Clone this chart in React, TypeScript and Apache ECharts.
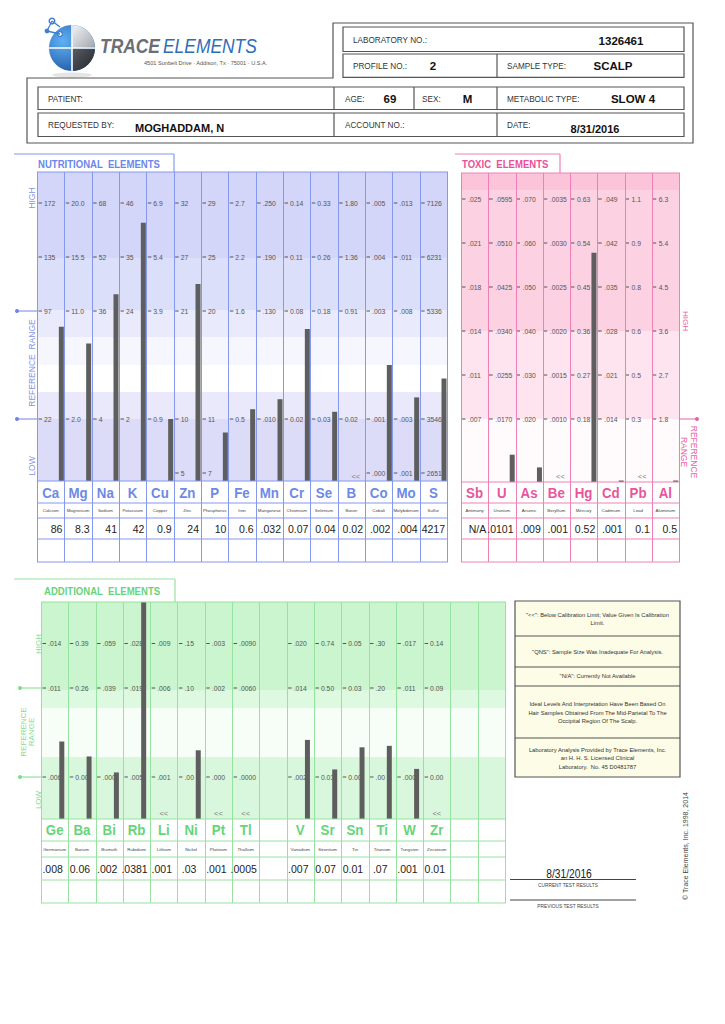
import React, { useEffect, useRef } from "react";
import * as echarts from "echarts";

const FONT = '"Liberation Sans", Arial, Helvetica, sans-serif';

// ================= DATA =================
// Nutritional elements
const nutSymbols = ["Ca", "Mg", "Na", "K", "Cu", "Zn", "P", "Fe", "Mn", "Cr", "Se", "B", "Co", "Mo", "S"];
const nutNames = ["Calcium", "Magnesium", "Sodium", "Potassium", "Copper", "Zinc", "Phosphorus", "Iron", "Manganese", "Chromium", "Selenium", "Boron", "Cobalt", "Molybdenum", "Sulfur"];
const nutResults = ["86", "8.3", "41", "42", "0.9", "24", "10", "0.6", ".032", "0.07", "0.04", "0.02", ".002", ".004", "4217"];
const nutBelowLimit = [false, false, false, false, false, false, false, false, false, false, false, true, false, false, false];
const nutTickLow = ["", "", "", "", "", "5", "7", "", "", "", "", "", ".000", ".001", "2651"];
const nutTickRefLow = ["22", "2.0", "4", "2", "0.9", "10", "11", "0.5", ".010", "0.02", "0.03", "0.02", ".001", ".003", "3546"];
const nutTickRefHigh = ["97", "11.0", "36", "24", "3.9", "21", "20", "1.6", ".130", "0.08", "0.18", "0.91", ".003", ".008", "5336"];
const nutTickMid = ["135", "15.5", "52", "35", "5.4", "27", "25", "2.2", ".190", "0.11", "0.26", "1.36", ".004", ".011", "6231"];
const nutTickHigh = ["172", "20.0", "68", "46", "6.9", "32", "29", "2.7", ".250", "0.14", "0.33", "1.80", ".005", ".013", "7126"];

// Toxic elements
const toxSymbols = ["Sb", "U", "As", "Be", "Hg", "Cd", "Pb", "Al"];
const toxNames = ["Antimony", "Uranium", "Arsenic", "Beryllium", "Mercury", "Cadmium", "Lead", "Aluminum"];
const toxResults = ["N/A", ".0101", ".009", ".001", "0.52", ".001", "0.1", "0.5"];
const toxBelowLimit = [false, false, false, true, false, false, true, false];
const toxTick1 = [".007", ".0170", ".020", ".0010", "0.18", ".014", "0.3", "1.8"];
const toxTick2 = [".011", ".0255", ".030", ".0015", "0.27", ".021", "0.5", "2.7"];
const toxTick3 = [".014", ".0340", ".040", ".0020", "0.36", ".028", "0.6", "3.6"];
const toxTick4 = [".018", ".0425", ".050", ".0025", "0.45", ".035", "0.8", "4.5"];
const toxTick5 = [".021", ".0510", ".060", ".0030", "0.54", ".042", "0.9", "5.4"];
const toxTick6 = [".025", ".0595", ".070", ".0035", "0.63", ".049", "1.1", "6.3"];

// Additional elements
const addSymbols = ["Ge", "Ba", "Bi", "Rb", "Li", "Ni", "Pt", "Tl", "", "V", "Sr", "Sn", "Ti", "W", "Zr", "", ""];
const addNames = ["Germanium", "Barium", "Bismuth", "Rubidium", "Lithium", "Nickel", "Platinum", "Thallium", "", "Vanadium", "Strontium", "Tin", "Titanium", "Tungsten", "Zirconium", "", ""];
const addResults = [".008", "0.06", ".002", ".0381", ".001", ".03", ".001", ".0005", "", ".007", "0.07", "0.01", ".07", ".001", "0.01", "", ""];
const addBelowLimit = [false, false, false, false, true, false, true, true, false, false, false, false, false, false, true, false, false];
const addTickLow = [".006", "0.00", ".000", ".005", ".001", ".00", ".000", ".0000", "", ".002", "0.03", "0.00", ".00", ".000", "0.00", "", ""];
const addTickRefHigh = [".011", "0.26", ".039", ".019", ".006", ".10", ".002", ".0060", "", ".014", "0.50", "0.03", ".20", ".011", "0.09", "", ""];
const addTickHigh = [".014", "0.39", ".059", ".028", ".009", ".15", ".003", ".0090", "", ".020", "0.74", "0.05", ".30", ".017", "0.14", "", ""];

// Legend / notes
const legendLines = [
  ['"<<": Below Calibration Limit; Value Given Is Calibration', "Limit."],
  ['"QNS": Sample Size Was Inadequate For Analysis.'],
  ['"N/A": Currently Not Available'],
  ["Ideal Levels And Interpretation Have Been Based On", "Hair Samples Obtained From The Mid-Parietal To The", "Occipital Region Of The Scalp."],
  ["Laboratory Analysis Provided by Trace Elements, Inc.", "an H. H. S. Licensed Clinical", "Laboratory.  No. 45 D0481787"],
];

// ================= LAYOUT =================
type Layout = {
  left: number; top: number; width: number; bottom: number;
  zeroPx: number; unit: number; plotBottomPx: number; rowLinesPx: number[];
  symPx: number; namePx: number; valPx: number; lessPx: number; tickPos: number[];
  dash: [number, number]; tickTextX: number; barInset: number; valueAlign: "right" | "center";
  lessDx: number; lineColor: string; symColor: string; bands: [number, number, string][];
};

const NUT: Layout = {
  left: 37, top: 172, width: 410, bottom: 562, zeroPx: 527, unit: 54, plotBottomPx: 481,
  rowLinesPx: [503, 518, 539], symPx: 492.5, namePx: 510.5, valPx: 529, lessPx: 476,
  tickPos: [1, 2, 4, 5, 6], dash: [1.5, 5], tickTextX: 7, barInset: 0.5, valueAlign: "right", lessDx: 4.5,
  lineColor: "#8598ef", symColor: "#6d89e8",
  bands: [[172, 258, "#d3d6f8"], [258, 310, "#dcdff9"], [310, 337, "#e9ebfc"], [337, 365, "#f6f6fe"], [365, 392, "#ffffff"], [392, 419, "#e9e9fb"], [419, 481, "#dcdcf8"]],
};
const TOX: Layout = {
  left: 461, top: 173, width: 218, bottom: 562, zeroPx: 507, unit: 44, plotBottomPx: 482,
  rowLinesPx: [503, 518, 539], symPx: 493, namePx: 510.5, valPx: 529, lessPx: 476,
  tickPos: [2, 3, 4, 5, 6, 7], dash: [0.5, 4.5], tickTextX: 7, barInset: 0.8, valueAlign: "right", lessDx: 4,
  lineColor: "#ee80b6", symColor: "#e8559c",
  bands: [[173, 190, "#fbc4d9"], [190, 331, "#fcd2e3"], [331, 419, "#fde4ee"], [419, 482, "#fffbfd"]],
};
const ADD: Layout = {
  left: 41, top: 602, width: 464, bottom: 903, zeroPx: 866, unit: 44.5, plotBottomPx: 819,
  rowLinesPx: [841, 857, 880], symPx: 830, namePx: 849, valPx: 869, lessPx: 813,
  tickPos: [2, 4, 5], dash: [1.5, 5], tickTextX: 7, barInset: 4, valueAlign: "center", lessDx: 0,
  lineColor: "#96e2a0", symColor: "#66d479",
  bands: [[602, 690, "#cbf5ce"], [690, 708, "#ddf9df"], [708, 757, "#f7fdf7"], [757, 819, "#d9f7dc"]],
};

type Panel = { layout: Layout; symbols: string[]; names: string[]; results: string[]; below: boolean[]; rows: string[][] };

const PANELS: Panel[] = [
  { layout: NUT, symbols: nutSymbols, names: nutNames, results: nutResults, below: nutBelowLimit, rows: [nutTickLow, nutTickRefLow, nutTickRefHigh, nutTickMid, nutTickHigh] },
  { layout: TOX, symbols: toxSymbols, names: toxNames, results: toxResults, below: toxBelowLimit, rows: [toxTick1, toxTick2, toxTick3, toxTick4, toxTick5, toxTick6] },
  { layout: ADD, symbols: addSymbols, names: addNames, results: addResults, below: addBelowLimit, rows: [addTickLow, addTickRefHigh, addTickHigh] },
];

// value -> position on the panel's band scale (piecewise linear through that column's tick values)
function valueToPos(v: number, rows: string[][], tickPos: number[], j: number): number {
  const pts: [number, number][] = [];
  rows.forEach((row, r) => {
    const t = parseFloat(row[j]);
    if (isFinite(t)) pts.push([t, tickPos[r]]);
  });
  if (pts[0][0] > 0) pts.unshift([0, 0]);
  for (let k = 0; k < pts.length - 1; k++) {
    const [v0, p0] = pts[k];
    const [v1, p1] = pts[k + 1];
    if (v <= v1 || k === pts.length - 2) return p0 + ((v - v0) / (v1 - v0)) * (p1 - p0);
  }
  return pts[0][1];
}

function panelSeries(p: Panel, gi: number): any[] {
  const L = p.layout;
  const n = p.symbols.length;
  const yv = (px: number) => (L.zeroPx - px) / L.unit;
  const common = { type: "custom", coordinateSystem: "cartesian2d", xAxisIndex: gi, yAxisIndex: gi, silent: true };

  const bg = {
    ...common, z: 1,
    data: L.bands.map((b) => [0, yv(b[0]), yv(b[1])]),
    renderItem: (params: any, api: any) => {
      const cs = params.coordSys;
      const a = api.coord([0, api.value(1)])[1];
      const b = api.coord([0, api.value(2)])[1];
      return { type: "rect", shape: { x: cs.x, y: Math.min(a, b), width: cs.width, height: Math.abs(b - a) }, style: { fill: L.bands[params.dataIndex][2] } };
    },
  };

  const ticks: { j: number; pos: number; lab: string }[] = [];
  p.rows.forEach((row, r) => row.forEach((lab, j) => { if (lab) ticks.push({ j, pos: L.tickPos[r], lab }); }));
  const tk = {
    ...common, z: 2,
    data: ticks.map((t) => [t.j, t.pos]),
    renderItem: (params: any, api: any) => {
      const c = api.coord([api.value(0), api.value(1)]);
      const w = params.coordSys.width / n;
      const l = c[0] - w / 2;
      return {
        type: "group",
        children: [
          { type: "line", shape: { x1: l + L.dash[0], y1: c[1], x2: l + L.dash[1], y2: c[1] }, style: { stroke: "#555", lineWidth: 1 } },
          { type: "text", x: l + L.tickTextX, y: c[1], style: { text: ticks[params.dataIndex].lab, fill: "#555", fontSize: 6.8, fontFamily: FONT, align: "left", verticalAlign: "middle" } },
        ],
      };
    },
  };

  const bars: number[][] = [];
  p.results.forEach((r, j) => {
    const v = parseFloat(r);
    if (!isFinite(v) || p.below[j]) return;
    bars.push([j, valueToPos(v, p.rows, L.tickPos, j)]);
  });
  const br = {
    ...common, z: 3,
    data: bars,
    renderItem: (params: any, api: any) => {
      const c = api.coord([api.value(0), api.value(1)]);
      const w = params.coordSys.width / n;
      const right = c[0] + w / 2 - L.barInset;
      const bottom = api.coord([0, yv(L.plotBottomPx)])[1];
      let y = Math.max(c[1], params.coordSys.y);
      y = Math.min(y, bottom - 1.5);
      return { type: "rect", shape: { x: right - 5, y, width: 5, height: bottom - y }, style: { fill: "#5e5e5e" } };
    },
  };

  const frame = {
    ...common, z: 4,
    data: [[0, 0]],
    renderItem: (params: any, api: any) => {
      const cs = params.coordSys;
      const w = cs.width / n;
      const children: any[] = [];
      for (let k = 0; k <= n; k++) {
        const x = Math.round(cs.x + k * w) + 0.5;
        children.push({ type: "line", shape: { x1: x, y1: cs.y, x2: x, y2: cs.y + cs.height }, style: { stroke: L.lineColor, lineWidth: 1 } });
      }
      [L.top, L.plotBottomPx, ...L.rowLinesPx, L.bottom].forEach((px) => {
        const y = api.coord([0, yv(px)])[1];
        children.push({ type: "line", shape: { x1: cs.x, y1: y, x2: cs.x + cs.width + 1, y2: y }, style: { stroke: L.lineColor, lineWidth: 1 } });
      });
      return { type: "group", children };
    },
  };

  const cells: { j: number; pos: number; text: string; kind: string }[] = [];
  p.symbols.forEach((s, j) => {
    if (s) cells.push({ j, pos: yv(L.symPx), text: s, kind: "sym" });
    if (p.names[j]) cells.push({ j, pos: yv(L.namePx), text: p.names[j], kind: "name" });
    if (p.results[j]) cells.push({ j, pos: yv(L.valPx), text: p.results[j], kind: "val" });
    if (p.below[j]) cells.push({ j, pos: yv(L.lessPx), text: "<<", kind: "less" });
  });
  const tx = {
    ...common, z: 5,
    data: cells.map((c) => [c.j, c.pos]),
    renderItem: (params: any, api: any) => {
      const cell = cells[params.dataIndex];
      const c = api.coord([api.value(0), api.value(1)]);
      const w = params.coordSys.width / n;
      const base = { fontFamily: FONT, verticalAlign: "middle", text: cell.text };
      if (cell.kind === "sym") {
        return { type: "text", x: c[0], y: c[1], scaleX: 0.86, style: { ...base, fontSize: 15.5, fontWeight: "bold", fill: L.symColor, align: "center" } };
      }
      if (cell.kind === "name") {
        return { type: "text", x: c[0], y: c[1], style: { ...base, fontSize: 4.4, fill: "#444", align: "center" } };
      }
      if (cell.kind === "val") {
        const x = L.valueAlign === "right" ? c[0] + w / 2 - 2 : c[0] - 2;
        return { type: "text", x, y: c[1], style: { ...base, fontSize: 10.5, fill: "#222", align: L.valueAlign } };
      }
      return { type: "text", x: c[0] + L.lessDx, y: c[1], style: { ...base, fontSize: 7.5, fill: "#7a7a7a", align: "center" } };
    },
  };

  return [bg, tk, br, frame, tx];
}

// ================= GRAPHIC HELPERS =================
const T = (text: string, x: number, y: number, o: any = {}) => ({
  type: "text", x, y, rotation: o.rot || 0, scaleX: o.sx || 1, silent: true, z: 10,
  style: {
    text, fill: o.color || "#333", fontSize: o.size || 8, fontWeight: o.weight || "normal", fontStyle: o.italic ? "italic" : "normal",
    fontFamily: FONT, align: o.align || "left", verticalAlign: "middle", lineHeight: o.lh,
  },
});
const Ln = (x1: number, y1: number, x2: number, y2: number, color: string, w = 1) => ({
  type: "line", silent: true, z: 10, shape: { x1, y1, x2, y2 }, style: { stroke: color, lineWidth: w },
});
const Rc = (x: number, y: number, w: number, h: number, stroke: string, fill = "none", lw = 1.2) => ({
  type: "rect", silent: true, z: 10, shape: { x, y, width: w, height: h }, style: { stroke, fill, lineWidth: lw },
});
const Dot = (cx: number, cy: number, r: number, color: string) => ({
  type: "circle", silent: true, z: 10, shape: { cx, cy, r }, style: { fill: color },
});

function buildGraphics(): any[] {
  const g: any[] = [];
  const HL = "#555";
  // ---- Logo ----
  g.push({ type: "ellipse", silent: true, shape: { cx: 72, cy: 75, rx: 20, ry: 2.5 }, style: { fill: "rgba(0,0,0,0.10)" } });
  g.push({ type: "circle", silent: true, shape: { cx: 72, cy: 48, r: 23 }, style: { fill: new echarts.graphic.RadialGradient(0.3, 0.35, 0.85, [{ offset: 0, color: "#5fb0f5" }, { offset: 1, color: "#1a4c98" }]) } });
  g.push({ type: "sector", silent: true, shape: { cx: 72, cy: 48, r: 23, r0: 0, startAngle: -Math.PI / 2 + 0.05, endAngle: -0.05 }, style: { fill: new echarts.graphic.LinearGradient(0, 0, 1, 1, [{ offset: 0, color: "#f2f3f5" }, { offset: 1, color: "#a2a7ae" }]) } });
  g.push({ type: "sector", silent: true, shape: { cx: 72, cy: 48, r: 23, r0: 0, startAngle: 0.05, endAngle: Math.PI / 2 - 0.05 }, style: { fill: new echarts.graphic.LinearGradient(0, 0, 1, 1, [{ offset: 0, color: "#5a5e64" }, { offset: 1, color: "#22252a" }]) } });
  g.push(Ln(72, 25, 72, 71, "#ffffff", 1.6));
  g.push(Ln(49, 48, 95, 48, "#ffffff", 1.6));
  g.push(Ln(52, 21, 47, 31, "#3b7fd0", 1.3));
  g.push(Ln(47, 31, 60, 34, "#3b7fd0", 1.3));
  g.push(Ln(52, 21, 60, 27, "#3b7fd0", 1.3));
  g.push({ type: "circle", silent: true, shape: { cx: 52, cy: 21, r: 2.8 }, style: { fill: "#fff", stroke: "#3b7fd0", lineWidth: 1.4 } });
  g.push(Dot(47, 31, 2.4, "#3b7fd0"));
  g.push({ type: "circle", silent: true, shape: { cx: 60, cy: 34, r: 2.4 }, style: { fill: "#fff", stroke: "#3b7fd0", lineWidth: 1.3 } });
  g.push(T("TRACE", 100, 46, { size: 21, weight: "bold", italic: true, color: "#6b6f75", sx: 0.83 }));
  g.push(T("ELEMENTS", 163, 46, { size: 21, italic: true, color: "#2f6db5", sx: 0.83 }));
  g.push(T("4501 Sunbelt Drive · Addison, Tx · 75001 · U.S.A.", 144, 63, { size: 5.6, color: "#555" }));

  // ---- Header boxes ----
  g.push({ type: "polygon", silent: true, z: 10, shape: { points: [[27, 78], [333, 78], [333, 23], [693, 23], [693, 143], [27, 143]] }, style: { stroke: HL, fill: "none", lineWidth: 1.2 } });
  g.push(Rc(343, 27, 341, 24.5, HL));
  g.push(Rc(343, 54, 341, 23.3, HL));
  g.push(Ln(497, 54, 497, 77.3, HL, 1.2));
  g.push(Rc(38, 87, 646, 22.5, HL));
  g.push(Ln(334, 87, 334, 109.5, HL, 1.2));
  g.push(Ln(414, 87, 414, 109.5, HL, 1.2));
  g.push(Ln(497, 87, 497, 109.5, HL, 1.2));
  g.push(Rc(38, 113, 646, 23.5, HL));
  g.push(Ln(334, 113, 334, 136.5, HL, 1.2));
  g.push(Ln(497, 113, 497, 136.5, HL, 1.2));
  const lab = { size: 8.2, color: "#333" };
  const val = { size: 11.5, weight: "bold", color: "#111", align: "center" };
  g.push(T("LABORATORY NO.:", 353, 40, lab));
  g.push(T("1326461", 621, 40.5, val));
  g.push(T("PROFILE NO.:", 353, 66, lab));
  g.push(T("2", 433, 65.5, val));
  g.push(T("SAMPLE TYPE:", 507, 66, lab));
  g.push(T("SCALP", 613, 65.5, val));
  g.push(T("PATIENT:", 48, 99, lab));
  g.push(T("AGE:", 345, 99, lab));
  g.push(T("69", 390, 98.5, val));
  g.push(T("SEX:", 422, 99, lab));
  g.push(T("M", 467.5, 98.5, val));
  g.push(T("METABOLIC TYPE:", 507, 99, lab));
  g.push(T("SLOW 4", 633, 98.5, val));
  g.push(T("REQUESTED BY:", 48, 125, lab));
  g.push(T("MOGHADDAM, N", 135, 128, { ...val, align: "left", size: 11 }));
  g.push(T("ACCOUNT NO.:", 345, 125, lab));
  g.push(T("DATE:", 507, 125, lab));
  g.push(T("8/31/2016", 595, 129, { ...val, size: 11 }));

  // ---- Panel tabs ----
  const blue = "#8598ef", pink = "#ee80b6", green = "#96e2a0";
  g.push(Ln(14, 154, 174, 154, blue, 1.2));
  g.push(Ln(174, 154, 174, 172, blue, 1.2));
  g.push(T("NUTRITIONAL  ELEMENTS", 38, 164, { size: 11, weight: "bold", color: "#6b86ec", sx: 0.87 }));
  g.push(Ln(455, 154, 560, 154, pink, 1.2));
  g.push(Ln(560, 154, 560, 173, pink, 1.2));
  g.push(T("TOXIC  ELEMENTS", 462, 164, { size: 11, weight: "bold", color: "#ea4f98", sx: 0.87 }));
  g.push(Ln(14, 579, 175, 579, green, 1.2));
  g.push(Ln(175, 579, 175, 602, green, 1.2));
  g.push(T("ADDITIONAL  ELEMENTS", 44, 591, { size: 11, weight: "bold", color: "#68d47c", sx: 0.87 }));

  // ---- Side annotations ----
  const nb = "#7f93e6";
  g.push(T("HIGH", 32, 198, { size: 8.5, color: nb, rot: Math.PI / 2, align: "center" }));
  g.push(T("REFERENCE  RANGE", 32, 363, { size: 8.5, color: nb, rot: Math.PI / 2, align: "center" }));
  g.push(T("LOW", 32, 466, { size: 8.5, color: nb, rot: Math.PI / 2, align: "center" }));
  g.push(Ln(17, 311, 37, 311, "#6f85e6", 1));
  g.push(Ln(17, 419, 37, 419, "#6f85e6", 1));
  g.push(Dot(17, 311, 2, "#6f85e6"));
  g.push(Dot(17, 419, 2, "#6f85e6"));

  const pk = "#ea62a6";
  g.push(T("HIGH", 685, 321, { size: 8, color: pk, rot: -Math.PI / 2, align: "center" }));
  g.push(T("REFERENCE\nRANGE", 689, 452, { size: 8.5, color: pk, rot: -Math.PI / 2, align: "center", lh: 10 }));
  g.push(Ln(679, 419, 697, 419, pk, 1));
  g.push(Dot(697, 419, 2, pk));

  const gr = "#7fdc8a";
  g.push(T("HIGH", 38, 644, { size: 8, color: gr, rot: Math.PI / 2, align: "center" }));
  g.push(T("REFERENCE\nRANGE", 27.5, 732, { size: 8, color: gr, rot: Math.PI / 2, align: "center", lh: 7.5 }));
  g.push(T("LOW", 38, 800, { size: 8, color: gr, rot: Math.PI / 2, align: "center" }));
  g.push(Ln(20, 688, 41, 688, gr, 1));
  g.push(Ln(20, 777, 41, 777, gr, 1));
  g.push(Dot(20, 688, 2, gr));
  g.push(Dot(20, 777, 2, gr));

  // ---- Legend box ----
  g.push(Rc(515, 601, 165, 176, "#555", "#fdfce6", 1.2));
  [636, 667, 686, 738].forEach((y) => g.push(Ln(515, y, 680, y, "#555", 1.2)));
  const lineYs = [[615, 622.5], [651.5], [676], [704, 712.5, 721], [750, 758.3, 766.7]];
  legendLines.forEach((grp, i) => grp.forEach((t, k) => g.push(T(t, 597.5, lineYs[i][k], { size: 5.8, color: "#333", align: "center" }))));

  // ---- Test results footer ----
  g.push(T("8/31/2016", 569, 874, { size: 12.5, color: "#222", align: "center", sx: 0.82 }));
  g.push(Ln(510, 879.5, 636, 879.5, "#444", 1));
  g.push(T("CURRENT TEST RESULTS", 568, 885, { size: 4.8, color: "#444", align: "center" }));
  g.push(Ln(510, 900, 636, 900, "#444", 1));
  g.push(T("PREVIOUS TEST RESULTS", 568, 906, { size: 4.8, color: "#444", align: "center" }));
  g.push(T("© Trace Elements, Inc. 1998, 2014", 685, 846, { size: 7, color: "#444", rot: Math.PI / 2, align: "center" }));
  return g;
}

function buildOption(): any {
  const grids = PANELS.map((p) => ({ left: p.layout.left, top: p.layout.top, width: p.layout.width, height: p.layout.bottom - p.layout.top, show: false }));
  const xAxes = PANELS.map((p, i) => ({
    type: "category", gridIndex: i, show: false, boundaryGap: true,
    data: p.symbols.map((s, j) => s || `col${j}`),
  }));
  const yAxes = PANELS.map((p, i) => ({
    type: "value", gridIndex: i, show: false,
    min: (p.layout.zeroPx - p.layout.bottom) / p.layout.unit,
    max: (p.layout.zeroPx - p.layout.top) / p.layout.unit,
  }));
  const series = PANELS.flatMap((p, i) => panelSeries(p, i));
  return {
    animation: false,
    backgroundColor: "#ffffff",
    grid: grids,
    xAxis: xAxes,
    yAxis: yAxes,
    series,
    graphic: { elements: buildGraphics() },
  };
}

export default function App() {
  const ref = useRef<HTMLDivElement>(null);
  useEffect(() => {
    const el = ref.current;
    if (!el) return;
    const chart = echarts.init(el, undefined, { renderer: "svg", width: 725, height: 1024 });
    chart.setOption(buildOption());
    return () => chart.dispose();
  }, []);
  return <div ref={ref} style={{ position: "absolute", left: 0, top: 0, width: 725, height: 1024, background: "#fff" }} />;
}
